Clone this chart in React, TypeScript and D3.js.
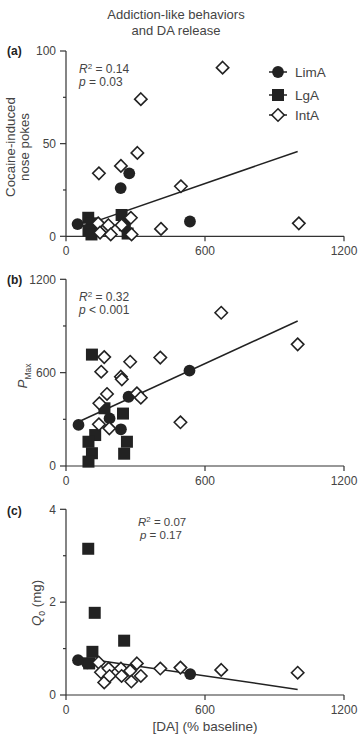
import React from 'react';
import * as d3 from 'd3';

// ---------- data ----------
const xTicks = [0, 600, 1200];
const xDomain = [0, 1200];

// Panel (a): cocaine-induced nose pokes
const aYTicks = [0, 50, 100];
const aYMinor = [25, 75];
const limA_a: [number, number][] = [[50, 6.6], [236, 26], [273, 34], [535, 8]];
const lgA_a: [number, number][] = [[96, 10], [112, 7], [97, 3], [110, 1], [240, 11.5], [254, 6], [266, 1.5]];
const intA_a: [number, number][] = [
  [139, 7], [142, 34], [147, 2], [183, 6], [193, 1], [237, 38], [240, 6], [280, 10],
  [283, 1], [308, 45], [323, 74], [410, 4], [496, 27], [676, 91], [1005, 7],
];
const fit_a: [number, number][] = [[50, 4.7], [1000, 45.8]];

// Panel (b): Pmax
const bYTicks = [0, 600, 1200];
const bYMinor = [300, 900];
const limA_b: [number, number][] = [[54, 264], [188, 306], [237, 236], [270, 445], [533, 613]];
const lgA_b: [number, number][] = [
  [112, 716], [166, 371], [246, 337], [126, 199], [97, 156], [112, 82], [97, 28], [263, 156], [251, 79],
];
const intA_b: [number, number][] = [
  [142, 268], [144, 403], [152, 606], [165, 700], [177, 463], [187, 242], [237, 574], [241, 557],
  [277, 670], [306, 467], [323, 439], [407, 697], [494, 281], [670, 985], [1000, 782],
];
const fit_b: [number, number][] = [[50, 281], [1000, 932]];

// Panel (c): Q0
const cYTicks = [0, 2, 4];
const cYMinor = [1, 3];
const limA_c: [number, number][] = [[52, 0.75], [92, 0.68], [536, 0.45]];
const lgA_c: [number, number][] = [[96, 3.15], [124, 1.77], [251, 1.17], [114, 0.93], [100, 0.68]];
const intA_c: [number, number][] = [
  [141, 0.70], [151, 0.49], [165, 0.27], [184, 0.57], [188, 0.41], [237, 0.57], [240, 0.41],
  [277, 0.52], [282, 0.29], [306, 0.68], [323, 0.41], [407, 0.57], [494, 0.59], [670, 0.54], [1000, 0.48],
];
const fit_c: [number, number][] = [[50, 0.81], [1000, 0.12]];

const legendLabels = ['LimA', 'LgA', 'IntA'];

// ---------- style ----------
const FONT = 'Liberation Sans, Arial, Helvetica, sans-serif';
const AXIS = '#333';
const TXT = '#444';
const DARK = '#222';

const X0 = 66;
const X1 = 344;

function Circle({ x, y }: { x: number; y: number }) {
  return <circle cx={x} cy={y} r={5.9} fill={DARK} />;
}
function Square({ x, y }: { x: number; y: number }) {
  return <rect x={x - 6} y={y - 6} width={12} height={12} fill={DARK} />;
}
function Diamond({ x, y }: { x: number; y: number }) {
  const h = 6.2;
  return (
    <polygon
      points={`${x},${y - h} ${x + h},${y} ${x},${y + h} ${x - h},${y}`}
      fill="#fff"
      stroke={DARK}
      strokeWidth={1.6}
    />
  );
}

type PanelProps = {
  yDomain: [number, number];
  yTop: number;
  yBottom: number;
  yTicks: number[];
  yMinor: number[];
  limA: [number, number][];
  lgA: [number, number][];
  intA: [number, number][];
  fit: [number, number][];
};

function Panel(p: PanelProps) {
  const x = d3.scaleLinear().domain(xDomain).range([X0, X1]);
  const y = d3.scaleLinear().domain(p.yDomain).range([p.yBottom, p.yTop]);
  const line = d3
    .line<[number, number]>()
    .x((d) => x(d[0]))
    .y((d) => y(d[1]));
  return (
    <g>
      <line x1={X0} x2={X0} y1={p.yTop} y2={p.yBottom} stroke={AXIS} strokeWidth={1.2} />
      <line x1={X0} x2={X1} y1={p.yBottom} y2={p.yBottom} stroke={AXIS} strokeWidth={1.2} />
      {p.yTicks.map((t) => (
        <g key={'yt' + t}>
          <line x1={X0 - 6} x2={X0} y1={y(t)} y2={y(t)} stroke={AXIS} strokeWidth={1.2} />
          <text x={56} y={y(t)} dy="0.36em" textAnchor="end" fontSize={12} fill={TXT}>
            {t}
          </text>
        </g>
      ))}
      {p.yMinor.map((t) => (
        <line key={'ym' + t} x1={X0 - 3} x2={X0} y1={y(t)} y2={y(t)} stroke={AXIS} strokeWidth={1.2} />
      ))}
      {xTicks.map((t) => (
        <g key={'xt' + t}>
          <line x1={x(t)} x2={x(t)} y1={p.yBottom} y2={p.yBottom + 5} stroke={AXIS} strokeWidth={1.2} />
          <text x={x(t)} y={p.yBottom + 19} textAnchor="middle" fontSize={12} fill={TXT}>
            {t}
          </text>
        </g>
      ))}
      <path d={line(p.fit) || ''} fill="none" stroke={DARK} strokeWidth={1.5} />
      {p.limA.map((d, i) => (
        <Circle key={'c' + i} x={x(d[0])} y={y(d[1])} />
      ))}
      {p.lgA.map((d, i) => (
        <Square key={'s' + i} x={x(d[0])} y={y(d[1])} />
      ))}
      {p.intA.map((d, i) => (
        <Diamond key={'d' + i} x={x(d[0])} y={y(d[1])} />
      ))}
    </g>
  );
}

export default function App() {
  const legendY = [72, 95, 115];
  return (
    <svg
      width={360}
      height={735}
      style={{ position: 'absolute', left: 0, top: 0, background: '#fff' }}
      fontFamily={FONT}
    >
      <rect width={360} height={735} fill="#fff" />
      <text x={176} y={19} textAnchor="middle" fontSize={13} fill={TXT}>
        Addiction-like behaviors
      </text>
      <text x={176} y={35} textAnchor="middle" fontSize={13} fill={TXT}>
        and DA release
      </text>

      {/* panel a */}
      <text x={7} y={55} fontSize={12} fontWeight="bold" fill={DARK}>(a)</text>
      <Panel
        yDomain={[0, 100]}
        yTop={51}
        yBottom={236.3}
        yTicks={aYTicks}
        yMinor={aYMinor}
        limA={limA_a}
        lgA={lgA_a}
        intA={intA_a}
        fit={fit_a}
      />
      <text transform="translate(15,147) rotate(-90)" textAnchor="middle" fontSize={13.3} fill={TXT}>
        Cocaine-induced
      </text>
      <text transform="translate(29,147) rotate(-90)" textAnchor="middle" fontSize={13.3} fill={TXT}>
        nose pokes
      </text>
      <text x={79} y={73} fontSize={12} fill={TXT}>
        <tspan fontStyle="italic">R</tspan>
        <tspan fontSize={8} dy={-4}>2</tspan>
        <tspan dy={4}> = 0.14</tspan>
      </text>
      <text x={79} y={86} fontSize={12} fill={TXT}>
        <tspan fontStyle="italic">p</tspan> = 0.03
      </text>
      {legendLabels.map((lab, i) => (
        <g key={lab}>
          <line x1={269} x2={287} y1={legendY[i]} y2={legendY[i]} stroke={DARK} strokeWidth={1.5} />
          {i === 0 && <Circle x={278} y={legendY[i]} />}
          {i === 1 && <Square x={278} y={legendY[i]} />}
          {i === 2 && <Diamond x={278} y={legendY[i]} />}
          <text x={295} y={legendY[i]} dy="0.36em" fontSize={13.5} fill={TXT}>
            {lab}
          </text>
        </g>
      ))}

      {/* panel b */}
      <text x={7} y={284} fontSize={12} fontWeight="bold" fill={DARK}>(b)</text>
      <Panel
        yDomain={[0, 1200]}
        yTop={279.3}
        yBottom={466}
        yTicks={bYTicks}
        yMinor={bYMinor}
        limA={limA_b}
        lgA={lgA_b}
        intA={intA_b}
        fit={fit_b}
      />
      <text transform="translate(27,376) rotate(-90)" textAnchor="middle" fontSize={13.3} fill={TXT}>
        <tspan fontStyle="italic">P</tspan>
        <tspan fontSize={8.5} dy={4}>Max</tspan>
      </text>
      <text x={79} y={300.5} fontSize={12} fill={TXT}>
        <tspan fontStyle="italic">R</tspan>
        <tspan fontSize={8} dy={-4}>2</tspan>
        <tspan dy={4}> = 0.32</tspan>
      </text>
      <text x={79} y={314} fontSize={12} fill={TXT}>
        <tspan fontStyle="italic">p</tspan> {'< 0.001'}
      </text>

      {/* panel c */}
      <text x={7} y={515} fontSize={12} fontWeight="bold" fill={DARK}>(c)</text>
      <Panel
        yDomain={[0, 4]}
        yTop={509.3}
        yBottom={695}
        yTicks={cYTicks}
        yMinor={cYMinor}
        limA={limA_c}
        lgA={lgA_c}
        intA={intA_c}
        fit={fit_c}
      />
      <text transform="translate(41,603) rotate(-90)" textAnchor="middle" fontSize={13.3} fill={TXT}>
        <tspan fontStyle="italic">Q</tspan>
        <tspan fontSize={8.5} dy={4}>0</tspan>
        <tspan dy={-4}> (mg)</tspan>
      </text>
      <text x={138} y={526} fontSize={11.5} fill={TXT}>
        <tspan fontStyle="italic">R</tspan>
        <tspan fontSize={8} dy={-4}>2</tspan>
        <tspan dy={4}> = 0.07</tspan>
      </text>
      <text x={140} y={539} fontSize={11.5} fill={TXT}>
        <tspan fontStyle="italic">p</tspan> = 0.17
      </text>
      <text x={205} y={730.5} textAnchor="middle" fontSize={13.5} fill={TXT}>
        [DA] (% baseline)
      </text>
    </svg>
  );
}
